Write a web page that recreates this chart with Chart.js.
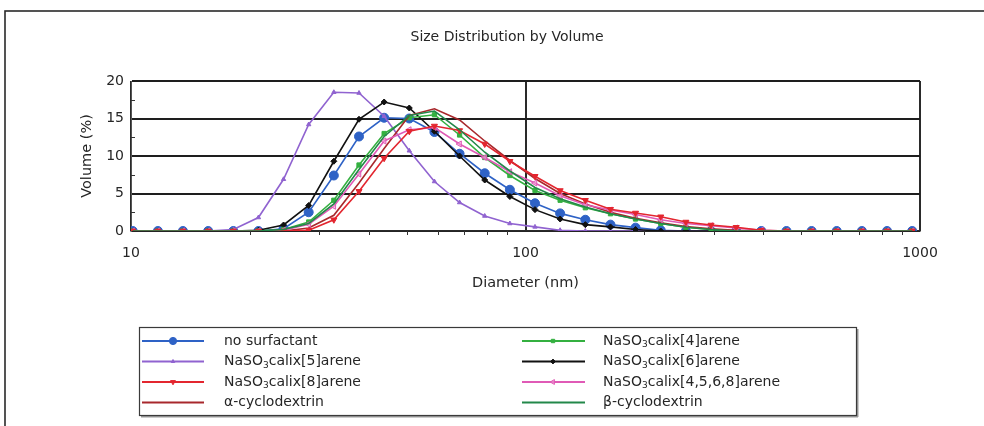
<!DOCTYPE html>
<html>
<head>
<meta charset="utf-8">
<script src="https://cdn.jsdelivr.net/npm/chart.js@4.4.1/dist/chart.umd.min.js"></script>
<style>
  html, body { margin: 0; padding: 0; background: #ffffff; }
  #wrap { width: 984px; height: 426px; }
</style>
</head>
<body>
<div id="wrap"><canvas id="c" width="984" height="426"></canvas></div>
<script>
// Size classes (nm) and volume percentages for each sample
const diameters = [10.1, 11.7, 13.54, 15.69, 18.17, 21.04, 24.36, 28.21, 32.67, 37.84, 43.82, 50.75,
  58.77, 68.06, 78.82, 91.28, 105.7, 122.4, 141.8, 164.2, 190.1, 220.2, 255.0, 295.3, 342.0, 396.1,
  458.7, 531.2, 615.1, 712.4, 825.0, 955.4];

const noSurfactant = [0, 0, 0, 0, 0, 0, 0.3, 2.5, 7.4, 12.6, 15.1, 15.0, 13.2, 10.3, 7.7, 5.5, 3.7,
  2.35, 1.5, 0.85, 0.45, 0.1, 0, 0, 0, 0, 0, 0, 0, 0, 0, 0];
const calix4 = [0, 0, 0, 0, 0, 0, 0.2, 1.2, 4.1, 8.8, 13.0, 15.1, 15.5, 12.8, 9.8, 7.4, 5.4,
  4.1, 3.1, 2.3, 1.6, 1.0, 0.5, 0.2, 0, 0, 0, 0, 0, 0, 0, 0];
const calix5 = [0, 0, 0, 0, 0.2, 1.8, 6.9, 14.2, 18.5, 18.4, 15.3, 10.7, 6.6, 3.8, 2.0, 1.0, 0.55,
  0.1, 0, 0, 0, 0, 0, 0, 0, 0, 0, 0, 0, 0, 0, 0];
const calix6 = [0, 0, 0, 0, 0, 0.1, 0.8, 3.4, 9.3, 14.9, 17.2, 16.4, 13.3, 10.0, 6.8, 4.6, 2.85,
  1.6, 0.85, 0.55, 0.2, 0, 0, 0, 0, 0, 0, 0, 0, 0, 0, 0];
const calix8 = [0, 0, 0, 0, 0, 0, 0, 0.1, 1.5, 5.3, 9.7, 13.3, 14.0, 13.4, 11.6, 9.3, 7.3,
  5.4, 4.1, 2.9, 2.4, 1.9, 1.2, 0.8, 0.5, 0.1, 0, 0, 0, 0, 0, 0];
const calixMix = [0, 0, 0, 0, 0, 0, 0.1, 0.9, 3.3, 7.6, 12.0, 13.5, 13.8, 11.6, 9.8, 7.9, 6.4,
  4.7, 3.5, 2.8, 2.2, 1.5, 1.0, 0.7, 0.4, 0.1, 0, 0, 0, 0, 0, 0];
const alphaCD = [0, 0, 0, 0, 0, 0, 0, 0.4, 2.1, 6.4, 11.0, 15.4, 16.3, 14.8, 12.0, 9.4, 7.0,
  5.0, 3.6, 2.5, 1.7, 1.1, 0.6, 0.3, 0.1, 0, 0, 0, 0, 0, 0, 0];
const betaCD = [0, 0, 0, 0, 0, 0, 0.2, 1.0, 3.6, 8.2, 12.6, 15.4, 16.0, 13.5, 10.5, 8.0, 5.8,
  4.3, 3.2, 2.3, 1.6, 1.0, 0.5, 0.2, 0, 0, 0, 0, 0, 0, 0, 0];

const seriesLabels = ['no surfactant', 'NaSO₃calix[4]arene', 'NaSO₃calix[5]arene', 'NaSO₃calix[6]arene',
  'NaSO₃calix[8]arene', 'NaSO₃calix[4,5,6,8]arene', 'α-cyclodextrin', 'β-cyclodextrin'];

const xTickValues = [10, 100, 1000];
const yTickValues = [0, 5, 10, 15, 20];
const xMinorTicks = [20, 30, 40, 50, 60, 70, 80, 90, 200, 300, 400, 500, 600, 700, 800, 900];
const yMinorTicks = [2.5, 7.5, 12.5, 17.5];

const FONT = '"DejaVu Sans", "Liberation Sans", sans-serif';
const TEXT = '#262626';

function pts(values) {
  return values.map((v, i) => ({ x: diameters[i], y: v }));
}

function series(label, values, color, style) {
  return Object.assign({
    label: label,
    data: pts(values),
    borderColor: color,
    backgroundColor: color,
    pointBackgroundColor: color,
    pointBorderColor: color,
    pointBorderWidth: 1,
    borderWidth: 1.6,
    tension: 0,
    pointHoverRadius: 0
  }, style);
}

const datasets = [
  series(seriesLabels[0], noSurfactant, '#2e62c6', { pointStyle: 'circle', pointRadius: 4.5, order: 7 }),
  series(seriesLabels[1], calix4, '#34b040', { pointStyle: 'rect', pointRadius: 3, order: 4 }),
  series(seriesLabels[2], calix5, '#9063d0', { pointStyle: 'triangle', pointRadius: 2.5, order: 6 }),
  series(seriesLabels[3], calix6, '#111111', { pointStyle: 'rectRot', pointRadius: 3, order: 5 }),
  series(seriesLabels[4], calix8, '#e3262f', { pointStyle: 'triangle', pointRotation: 180, pointRadius: 3.5, order: 1 }),
  series(seriesLabels[5], calixMix, '#e05ab6', { pointStyle: 'triangle', pointRotation: -90, pointRadius: 3.5, pointBackgroundColor: 'rgba(240,160,215,0.6)', order: 2 }),
  series(seriesLabels[6], alphaCD, '#a8282c', { pointRadius: 0, order: 3 }),
  series(seriesLabels[7], betaCD, '#23884a', { pointRadius: 0, order: 0 })
];

// Outer frame, heading, minor ticks and the boxed two-column legend
const decorations = {
  id: 'decorations',
  beforeDraw(chart) {
    const ctx = chart.ctx;
    ctx.save();
    ctx.fillStyle = '#ffffff';
    ctx.fillRect(0, 0, chart.width, chart.height);
    ctx.strokeStyle = '#2a2a2a';
    ctx.lineWidth = 1.6;
    ctx.strokeRect(5, 11, chart.width + 20, chart.height + 20);
    ctx.fillStyle = TEXT;
    ctx.font = '14px ' + FONT;
    ctx.textAlign = 'center';
    ctx.textBaseline = 'middle';
    ctx.fillText('Size Distribution by Volume', 507, 37);
    ctx.restore();
  },
  afterDraw(chart) {
    const ctx = chart.ctx;
    const xs = chart.scales.x, ys = chart.scales.y;
    const area = chart.chartArea;
    ctx.save();
    ctx.strokeStyle = '#333333';
    ctx.lineWidth = 1;
    xMinorTicks.forEach(v => {
      const px = Math.round(xs.getPixelForValue(v)) + 0.5;
      ctx.beginPath();
      ctx.moveTo(px, area.bottom);
      ctx.lineTo(px, area.bottom + 4);
      ctx.stroke();
    });
    yMinorTicks.forEach(v => {
      const py = Math.round(ys.getPixelForValue(v)) + 0.5;
      ctx.beginPath();
      ctx.moveTo(area.left, py);
      ctx.lineTo(area.left + 4, py);
      ctx.stroke();
    });

    // legend box with a soft shadow
    const bx = 139, by = 327, bw = 717, bh = 88;
    ctx.fillStyle = '#9a9a9a';
    ctx.fillRect(bx + 2, by + bh, bw, 2.5);
    ctx.fillRect(bx + bw, by + 2, 2.5, bh);
    ctx.fillStyle = '#ffffff';
    ctx.fillRect(bx, by, bw, bh);
    ctx.strokeStyle = '#3a3a3a';
    ctx.lineWidth = 1.2;
    ctx.strokeRect(bx + 0.5, by + 0.5, bw, bh);

    const cols = [{ x0: 142, x1: 204, mx: 173, tx: 224 }, { x0: 522, x1: 585, mx: 553, tx: 603 }];
    const rows = [341, 361.5, 382, 402.5];
    chart.data.datasets.forEach((ds, i) => {
      const c = cols[i % 2];
      const y = rows[Math.floor(i / 2)];
      ctx.strokeStyle = ds.borderColor;
      ctx.lineWidth = 2;
      ctx.beginPath();
      ctx.moveTo(c.x0, y);
      ctx.lineTo(c.x1, y);
      ctx.stroke();
      if (ds.pointRadius > 0) {
        ctx.fillStyle = ds.pointBackgroundColor;
        ctx.strokeStyle = ds.pointBorderColor;
        ctx.lineWidth = 1;
        Chart.helpers.drawPoint(ctx, {
          pointStyle: ds.pointStyle,
          rotation: ds.pointRotation || 0,
          radius: ds.pointRadius * 0.8,
          borderWidth: 1
        }, c.mx, y);
      }
      drawLabel(ctx, ds.label, c.tx, y);
    });
    ctx.restore();
  }
};

// Writes a legend label, setting the ₃ of NaSO₃ as a lowered small figure
function drawLabel(ctx, text, x, y) {
  ctx.fillStyle = TEXT;
  ctx.textAlign = 'left';
  ctx.textBaseline = 'middle';
  const parts = text.split('₃');
  let cx = x;
  parts.forEach((part, k) => {
    if (k > 0) {
      ctx.font = '9px ' + FONT;
      ctx.fillText('3', cx, y + 4);
      cx += ctx.measureText('3').width;
    }
    ctx.font = '14px ' + FONT;
    ctx.fillText(part, cx, y);
    cx += ctx.measureText(part).width;
  });
}

new Chart(document.getElementById('c'), {
  type: 'line',
  data: { datasets: datasets },
  plugins: [decorations],
  options: {
    responsive: false,
    devicePixelRatio: 1,
    animation: false,
    events: [],
    layout: { padding: { top: 81, right: 64, bottom: 0, left: 0 } },
    plugins: {
      legend: { display: false },
      title: { display: false },
      tooltip: { enabled: false }
    },
    scales: {
      x: {
        type: 'logarithmic',
        min: 10,
        max: 1000,
        afterBuildTicks: s => { s.ticks = xTickValues.map(v => ({ value: v, major: true })); },
        afterFit: s => { s.height = 195; },
        ticks: {
          autoSkip: false,
          maxRotation: 0,
          padding: 14,
          color: TEXT,
          font: { family: FONT, size: 14 },
          callback: v => String(v)
        },
        grid: {
          drawTicks: false,
          lineWidth: 2,
          color: '#2a2a2a'
        },
        border: { display: true, color: '#2a2a2a', width: 1.5 },
        title: {
          display: true,
          text: 'Diameter (nm)',
          color: TEXT,
          font: { family: FONT, size: 14.5 },
          padding: { top: 0, bottom: 134 }
        }
      },
      y: {
        min: 0,
        max: 20,
        afterBuildTicks: s => { s.ticks = yTickValues.map(v => ({ value: v })); },
        afterFit: s => { s.width = 131; },
        ticks: {
          padding: 7,
          color: TEXT,
          font: { family: FONT, size: 14 }
        },
        grid: {
          drawTicks: false,
          lineWidth: 2,
          color: '#1e1e1e'
        },
        border: { display: true, color: '#555555', width: 1 },
        title: {
          display: true,
          text: 'Volume (%)',
          color: TEXT,
          font: { family: FONT, size: 14.5 },
          padding: { top: 79, bottom: 0 }
        }
      }
    }
  }
});
</script>
</body>
</html>
